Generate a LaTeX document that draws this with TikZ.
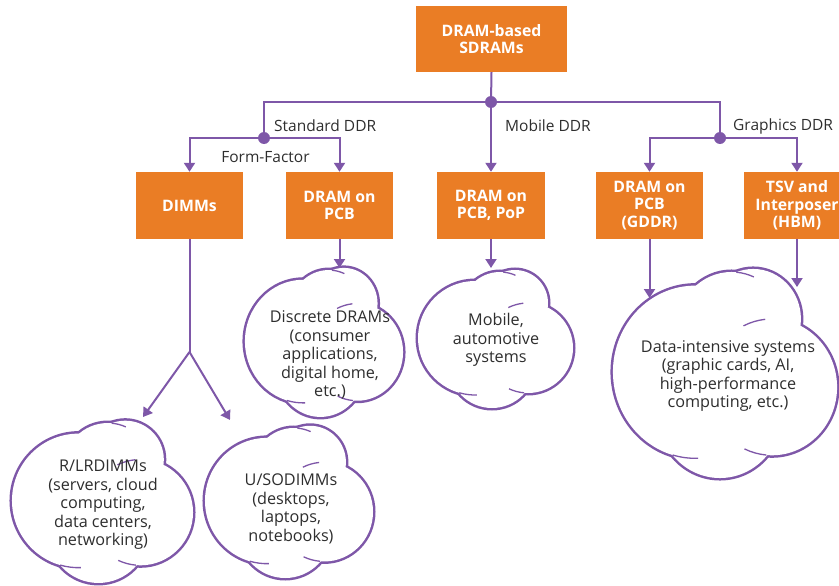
\documentclass[tikz,border=0pt]{standalone}
\usepackage{fontspec}
\setmainfont{Open Sans}
\usetikzlibrary{arrows.meta}
\definecolor{vio}{HTML}{7E57A8}
\definecolor{org}{HTML}{EA7D25}
\definecolor{txt}{HTML}{2E2E2E}
\newcommand\mycloud[4]{%
\begin{scope}[shift={(#1,#2)},xscale=#3,yscale=#4]
 \foreach \a/\b/\r in {-20.5/-2/57, 4.5/-30/38, 19.5/-37/33, 32.5/8/45, -3.5/25/43}
   \draw[vio, line width=5pt] (\a,\b) circle [radius=\r];
 \foreach \a/\b/\r in {-20.5/-2/57, 4.5/-30/38, 19.5/-37/33, 32.5/8/45, -3.5/25/43}
   \fill[white] (\a,\b) circle [radius=\r];
 \draw[vio, line width=1.3pt] (32.5,8) ++(264:45) arc[start angle=264, end angle=244, radius=45];
 \draw[vio, line width=1.3pt] (-20.5,-2) ++(106:57) arc[start angle=106, end angle=88, radius=57];
 \draw[vio, line width=1.3pt] (32.5,8) ++(95:45) arc[start angle=95, end angle=115, radius=45];
 \draw[vio, line width=1.3pt] (4.5,-30) ++(-85:38) arc[start angle=-85, end angle=-66, radius=38];
\end{scope}}
\begin{document}
\begin{tikzpicture}[x=1pt,y=-1pt,
  box/.style={fill=org, text=white, font=\bfseries\fontsize{15.8}{17.5}\selectfont, align=center,
    minimum width=107pt, minimum height=67pt, inner sep=0pt},
  lbl/.style={text=txt, font=\fontsize{15.5}{18}\selectfont, inner sep=0pt},
  ctext/.style={text=txt, font=\fontsize{16.2}{18.5}\selectfont, align=center, inner sep=0pt},
  dot/.style={circle, fill=vio, minimum size=12pt, inner sep=0pt},
  conn/.style={vio, line width=2pt},
  arr/.style={conn, -{Triangle[width=11pt,length=9pt]}}]
\useasboundingbox (0,0) rectangle (839,586);
\clip (0,0) rectangle (839,586);
% clouds
\mycloud{324}{343.5}{1.02}{1.08}
\mycloud{495.5}{340}{1}{1}
\mycloud{725}{375}{1.446}{1.515}
\mycloud{102.5}{503}{1.168}{1.176}
\mycloud{289}{503}{1.084}{1.103}
% boxes
\node[box, minimum width=151pt, minimum height=66pt] (top) at (491.5,39) {DRAM-based\\SDRAMs};
\node[box] (dimms) at (189.5,205.5) {DIMMs};
\node[box] (pcb) at (339.5,205.5) {DRAM on\\PCB};
\node[box, minimum width=108pt] (pop) at (491,205.5) {DRAM on\\PCB, PoP};
\node[box] (gddr) at (649.5,205.5) {DRAM on\\PCB\\(GDDR)};
\node[box] (hbm) at (797,205.5) {TSV and\\Interposer\\(HBM)};
% junctions
\coordinate (j0) at (491,102);
\coordinate (jstd) at (264,138);
\coordinate (jgfx) at (720,138);
\coordinate (split) at (189.5,352);
\coordinate (tl) at (143,417);
\coordinate (tr) at (230,420);
\coordinate (tpcb) at (339.5,268);
\coordinate (tpop) at (491,268);
\coordinate (tgddr) at (649.5,298);
\coordinate (thbm) at (797,287);
% connectors
\draw[conn] (top.south) -- (j0);
\draw[conn] (jstd) |- (j0);
\draw[conn] (j0) -| (jgfx);
\draw[arr] (j0) -- (pop.north);
\draw[arr] (jstd) -| (dimms.north);
\draw[arr] (jstd) -| (pcb.north);
\draw[arr] (jgfx) -| (gddr.north);
\draw[arr] (jgfx) -| (hbm.north);
\draw[conn] (dimms.south) -- (split);
\draw[arr] (split) -- (tl);
\draw[arr] (split) -- (tr);
\draw[arr] (pcb.south) -- (tpcb);
\draw[arr] (pop.south) -- (tpop);
\draw[arr] (gddr.south) -- (tgddr);
\draw[arr] (hbm.south) -- (thbm);
\node[dot] (d0) at (j0) {};
\node[dot] (d1) at (jstd) {};
\node[dot] (d2) at (jgfx) {};
% labels
\node[lbl, anchor=west] (lstd) at (274,126) {Standard DDR};
\node[lbl, anchor=west] (lmob) at (505,126) {Mobile DDR};
\node[lbl, anchor=west] (lgfx) at (733,126) {Graphics DDR};
\node[lbl] (lff) at (265.5,157) {Form-Factor};
% cloud texts
\node[ctext] (tdisc) at (330,355) {Discrete DRAMs\\(consumer\\applications,\\digital home,\\etc.)};
\node[ctext] (tmob) at (496,340) {Mobile,\\automotive\\systems};
\node[ctext] (tbig) at (728,376) {Data-intensive systems\\(graphic cards, AI,\\high-performance\\computing, etc.)};
\node[ctext] (trl) at (103,505) {R/LRDIMMs\\(servers, cloud\\computing,\\data centers,\\networking)};
\node[ctext] (tuso) at (291,509) {U/SODIMMs\\(desktops,\\laptops,\\notebooks)};
\end{tikzpicture}
\end{document}
